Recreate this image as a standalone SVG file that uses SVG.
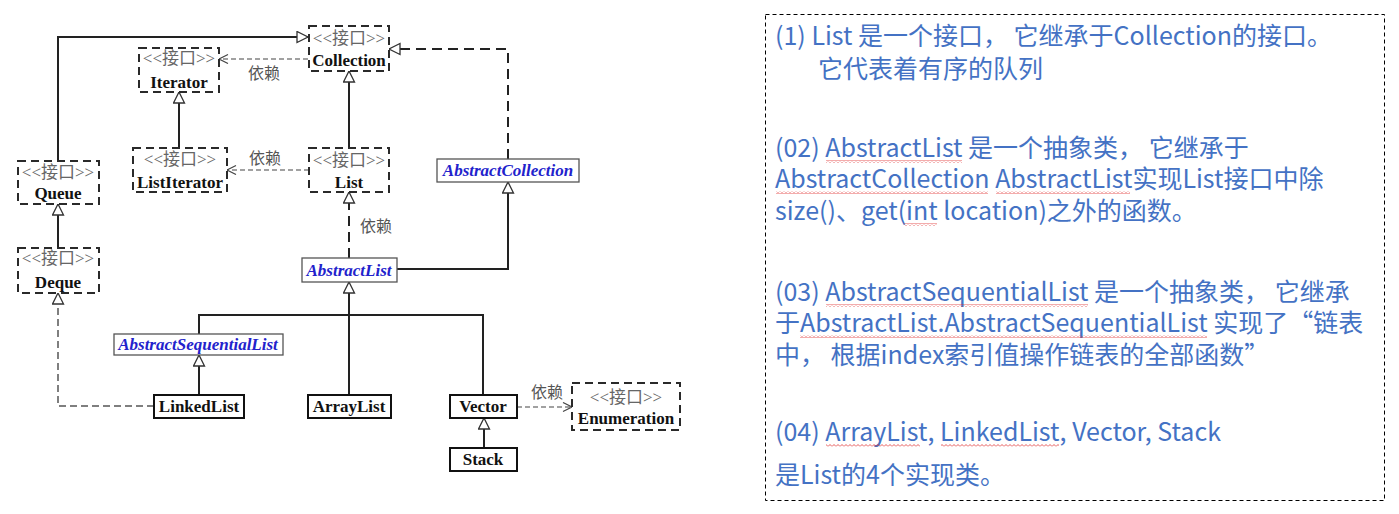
<svg xmlns="http://www.w3.org/2000/svg" width="1399" height="514" viewBox="0 0 1399 514">
<style>
.iface rect{fill:#fff;stroke:#2a2a2a;stroke-width:2;stroke-dasharray:8 5}
.cls rect{fill:#fff;stroke:#111;stroke-width:2}
.abs rect{fill:#fff;stroke:#555;stroke-width:1.3}
.st{font-family:"Liberation Serif","Noto Sans CJK SC",serif;font-size:17px;fill:#666;text-anchor:middle}
.nm{font-family:"Liberation Serif",serif;font-size:17px;font-weight:bold;fill:#111;text-anchor:middle}
.an{font-family:"Liberation Serif",serif;font-size:17px;font-weight:bold;font-style:italic;fill:#2222cc;text-anchor:middle}
.dep{font-family:"Noto Sans CJK SC",sans-serif;font-size:16px;fill:#555;text-anchor:middle}
.solid{fill:none;stroke:#222;stroke-width:2}
.gdash{fill:none;stroke:#222;stroke-width:2;stroke-dasharray:10 6}
.ddash{fill:none;stroke:#444;stroke-width:1.2;stroke-dasharray:5 3}
.ldash{fill:none;stroke:#555;stroke-width:1.5;stroke-dasharray:7 4}
.note{font-family:"Noto Sans CJK SC",sans-serif;font-size:25px;fill:#4472C4}
.sq{fill:url(#wave)}
</style>
<defs>
<marker id="tri" markerUnits="userSpaceOnUse" markerWidth="14" markerHeight="14" refX="12" refY="6.5" orient="auto">
<path d="M1,1 L12,6.5 L1,12 z" fill="#fff" stroke="#333" stroke-width="1.3"/>
</marker>
<marker id="open" markerUnits="userSpaceOnUse" markerWidth="12" markerHeight="12" refX="10" refY="5" orient="auto">
<path d="M1,0.5 L10,5 L1,9.5" fill="none" stroke="#444" stroke-width="1.2"/>
</marker>
<pattern id="wave" patternUnits="userSpaceOnUse" width="4" height="3">
<path d="M0,2.5 L2,0.5 L4,2.5" fill="none" stroke="#e03030" stroke-width="0.8"/>
</pattern>
</defs>

<g id="connectors">
<path class="solid" d="M58,161 V37 H308" marker-end="url(#tri)"/>
<path class="ddash" d="M308,59 H219" marker-end="url(#open)"/>
<path class="solid" d="M179,148 V92" marker-end="url(#tri)"/>
<path class="solid" d="M349,148 V71" marker-end="url(#tri)"/>
<path class="ddash" d="M309,170 H227" marker-end="url(#open)"/>
<path class="gdash" d="M508,159 V49 H389" marker-end="url(#tri)"/>
<path class="solid" d="M397,269 H508 V182" marker-end="url(#tri)"/>
<path class="gdash" d="M349,258 V192" marker-end="url(#tri)"/>
<path class="solid" d="M349,395 V282" marker-end="url(#tri)"/>
<path class="solid" d="M199,334 V315 H483 V395"/>
<path class="solid" d="M199,395 V355" marker-end="url(#tri)"/>
<path class="ldash" d="M154,406 H58 V293" marker-end="url(#tri)"/>
<path class="solid" d="M58,248 V204" marker-end="url(#tri)"/>
<path class="solid" d="M484,448 V418" marker-end="url(#tri)"/>
<path class="ddash" d="M517,407 H572" marker-end="url(#open)"/>
<text class="dep" x="264" y="79">依赖</text>
<text class="dep" x="265" y="164">依赖</text>
<text class="dep" x="376" y="232">依赖</text>
<text class="dep" x="547" y="398">依赖</text>
</g>

<g id="Collection" class="iface"><rect x="309" y="26" width="80" height="45"/><text class="st" x="349" y="44">&lt;&lt;接口&gt;&gt;</text><text class="nm" x="349" y="66">Collection</text></g>
<g id="Iterator" class="iface"><rect x="139" y="48" width="80" height="44"/><text class="st" x="179" y="64">&lt;&lt;接口&gt;&gt;</text><text class="nm" x="179" y="88">Iterator</text></g>
<g id="ListIterator" class="iface"><rect x="133" y="148" width="94" height="44"/><text class="st" x="180" y="165">&lt;&lt;接口&gt;&gt;</text><text class="nm" x="180" y="188">ListIterator</text></g>
<g id="List" class="iface"><rect x="309" y="148" width="80" height="44"/><text class="st" x="349" y="166">&lt;&lt;接口&gt;&gt;</text><text class="nm" x="349" y="188">List</text></g>
<g id="Queue" class="iface"><rect x="18" y="161" width="81" height="43"/><text class="st" x="58" y="178">&lt;&lt;接口&gt;&gt;</text><text class="nm" x="58" y="199">Queue</text></g>
<g id="Deque" class="iface"><rect x="18" y="248" width="81" height="45"/><text class="st" x="58" y="264">&lt;&lt;接口&gt;&gt;</text><text class="nm" x="58" y="288">Deque</text></g>
<g id="Enumeration" class="iface"><rect x="572" y="383" width="108" height="47"/><text class="st" x="626" y="403">&lt;&lt;接口&gt;&gt;</text><text class="nm" x="626" y="424">Enumeration</text></g>
<g id="AbstractCollection" class="abs"><rect x="437" y="159" width="142" height="23"/><text class="an" x="508" y="176">AbstractCollection</text></g>
<g id="AbstractList" class="abs"><rect x="302" y="258" width="95" height="24"/><text class="an" x="349" y="276">AbstractList</text></g>
<g id="AbstractSequentialList" class="abs"><rect x="114" y="334" width="169" height="21"/><text class="an" x="198" y="350">AbstractSequentialList</text></g>
<g id="LinkedList" class="cls"><rect x="154" y="395" width="90" height="23"/><text class="nm" x="199" y="412">LinkedList</text></g>
<g id="ArrayList" class="cls"><rect x="308" y="395" width="83" height="23"/><text class="nm" x="349" y="412">ArrayList</text></g>
<g id="Vector" class="cls"><rect x="450" y="395" width="67" height="23"/><text class="nm" x="483" y="412">Vector</text></g>
<g id="Stack" class="cls"><rect x="450" y="448" width="67" height="23"/><text class="nm" x="483" y="465">Stack</text></g>

<g id="notes">
<rect x="765.5" y="14.5" width="619" height="486" fill="none" stroke="#000" stroke-width="1" stroke-dasharray="4 3"/>
<text class="note" x="775" y="45">(1) List 是一个接口， 它继承于Collection的接口。</text>
<text class="note" x="818" y="78">它代表着有序的队列</text>
<text class="note" x="775" y="157">(02) AbstractList 是一个抽象类， 它继承于</text>
<text class="note" x="775" y="188">AbstractCollection AbstractList实现List接口中除</text>
<text class="note" x="775" y="220">size()、get(int location)之外的函数。</text>
<text class="note" x="775" y="301">(03) AbstractSequentialList 是一个抽象类， 它继承</text>
<text class="note" x="775" y="332">于AbstractList.AbstractSequentialList 实现了“链表</text>
<text class="note" x="775" y="364">中， 根据index索引值操作链表的全部函数”</text>
<text class="note" x="775" y="441">(04) ArrayList, LinkedList, Vector, Stack</text>
<text class="note" x="775" y="484">是List的4个实现类。</text>
<rect class="sq" x="826" y="160" width="136" height="3"/>
<rect class="sq" x="776" y="191" width="212" height="3"/>
<rect class="sq" x="996" y="191" width="134" height="3"/>
<rect class="sq" x="904" y="223" width="33" height="3"/>
<rect class="sq" x="826" y="304" width="262" height="3"/>
<rect class="sq" x="800" y="335" width="407" height="3"/>
<rect class="sq" x="826" y="444" width="94" height="3"/>
<rect class="sq" x="941" y="444" width="118" height="3"/>
</g>
</svg>
